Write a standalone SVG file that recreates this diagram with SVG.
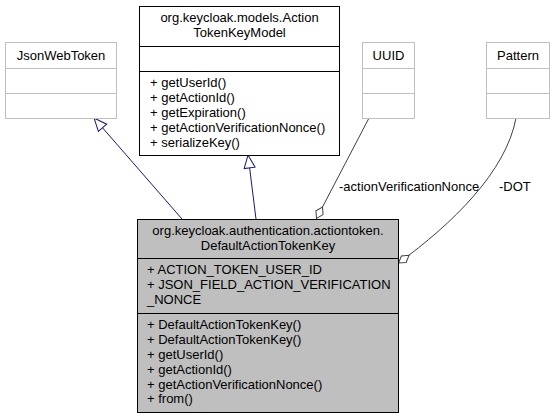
<svg xmlns="http://www.w3.org/2000/svg" width="555" height="419" viewBox="0 0 555 419">
<style>
text{font-family:"Liberation Sans",Arial,sans-serif;font-size:13px;fill:#000}
.c{text-anchor:middle}
.light{fill:#fff;stroke:#bfbfbf;stroke-width:1}
.dark{fill:#fff;stroke:#000;stroke-width:1}
.main{fill:#bfbfbf;stroke:#000;stroke-width:1}
.inh{fill:none;stroke:#191970;stroke-width:1}
.agg{fill:none;stroke:#404040;stroke-width:1}
</style>
<defs>
<marker id="tri" markerUnits="userSpaceOnUse" markerWidth="16" markerHeight="14" refX="13" refY="6" orient="auto" overflow="visible">
<path d="M0,0.5 L13,6 L0,11.5 Z" fill="#fff" stroke="#191970" stroke-width="1"/>
</marker>
<marker id="dia" markerUnits="userSpaceOnUse" markerWidth="16" markerHeight="14" refX="0" refY="6" orient="auto" overflow="visible">
<path d="M0,6 L6.5,2 L13,6 L6.5,10 Z" fill="#fff" stroke="#404040" stroke-width="1"/>
</marker>
</defs>
<g id="connectors">
<path class="inh" d="M182,219 L94,118" marker-end="url(#tri)"/>
<path class="inh" d="M256,219 L248,155" marker-end="url(#tri)"/>
<path class="agg" d="M316.5,218.5 L369,118" marker-start="url(#dia)"/>
<path class="agg" d="M398.5,263 C452,224 506,172 516,118" marker-start="url(#dia)"/>
<text x="339" y="191">-actionVerificationNonce</text>
<text x="499" y="191">-DOT</text>
</g>
<g id="JsonWebToken">
<rect class="light" x="5.5" y="42.5" width="111" height="76"/>
<line class="light" x1="5.5" y1="68.5" x2="116.5" y2="68.5"/>
<line class="light" x1="5.5" y1="93.5" x2="116.5" y2="93.5"/>
<text class="c" x="61" y="60">JsonWebToken</text>
</g>
<g id="ActionTokenKeyModel">
<rect class="dark" x="139.5" y="6.5" width="200" height="149"/>
<line class="dark" x1="139.5" y1="46.5" x2="339.5" y2="46.5"/>
<line class="dark" x1="139.5" y1="71.5" x2="339.5" y2="71.5"/>
<text class="c" x="239.5" y="22">org.keycloak.models.Action</text>
<text class="c" x="239.5" y="37">TokenKeyModel</text>
<text x="150" y="87">+ getUserId()</text>
<text x="150" y="102">+ getActionId()</text>
<text x="150" y="117">+ getExpiration()</text>
<text x="150" y="132">+ getActionVerificationNonce()</text>
<text x="150" y="147">+ serializeKey()</text>
</g>
<g id="UUID">
<rect class="light" x="362.5" y="42.5" width="52" height="76"/>
<line class="light" x1="362.5" y1="68.5" x2="414.5" y2="68.5"/>
<line class="light" x1="362.5" y1="93.5" x2="414.5" y2="93.5"/>
<text class="c" x="388.5" y="60">UUID</text>
</g>
<g id="Pattern">
<rect class="light" x="486.5" y="42.5" width="63" height="76"/>
<line class="light" x1="486.5" y1="68.5" x2="549.5" y2="68.5"/>
<line class="light" x1="486.5" y1="93.5" x2="549.5" y2="93.5"/>
<text class="c" x="518" y="60">Pattern</text>
</g>
<g id="DefaultActionTokenKey">
<rect class="main" x="137.5" y="219.5" width="261" height="193"/>
<line class="main" x1="137.5" y1="258.5" x2="398.5" y2="258.5"/>
<line class="main" x1="137.5" y1="313.5" x2="398.5" y2="313.5"/>
<text class="c" x="268" y="235">org.keycloak.authentication.actiontoken.</text>
<text class="c" x="268" y="250">DefaultActionTokenKey</text>
<text x="147" y="274">+ ACTION_TOKEN_USER_ID</text>
<text x="147" y="289">+ JSON_FIELD_ACTION_VERIFICATION</text>
<text x="147" y="304">_NONCE</text>
<text x="147" y="329">+ DefaultActionTokenKey()</text>
<text x="147" y="344">+ DefaultActionTokenKey()</text>
<text x="147" y="359">+ getUserId()</text>
<text x="147" y="374">+ getActionId()</text>
<text x="147" y="389">+ getActionVerificationNonce()</text>
<text x="147" y="403">+ from()</text>
</g>
</svg>
